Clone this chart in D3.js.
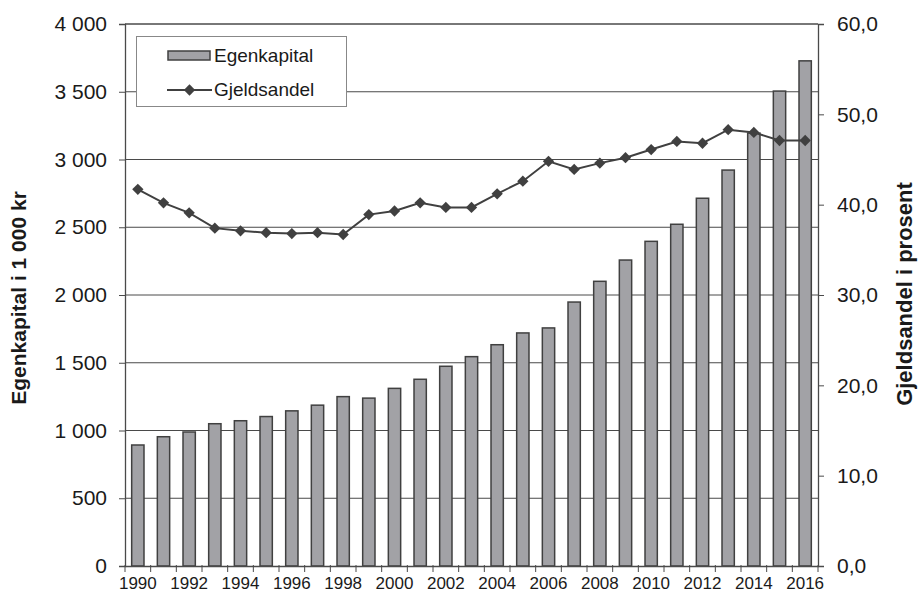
<!DOCTYPE html>
<html><head><meta charset="utf-8">
<script src="https://cdn.jsdelivr.net/npm/d3@7"></script>
<style>body{margin:0;background:#fff}svg{display:block;font-family:"Liberation Sans",Arial,sans-serif}</style>
</head><body><svg id="c" width="922" height="593"></svg>
<script>
const years = d3.range(1990, 2017).map(String);
const egenkapital = [893,954,989,1050,1072,1103,1145,1187,1250,1239,1311,1378,1474,1545,1633,1720,1757,1948,2101,2258,2396,2522,2714,2922,3195,3505,3728];
const gjeldsandel = [41.7,40.2,39.1,37.4,37.1,36.9,36.8,36.9,36.7,38.9,39.3,40.2,39.7,39.7,41.2,42.6,44.8,43.9,44.6,45.2,46.1,47.0,46.8,48.3,48.0,47.1,47.1];
const leftTicks = [0,500,1000,1500,2000,2500,3000,3500,4000];
const rightTicks = [0,10,20,30,40,50,60];
const seriesNames = ["Egenkapital","Gjeldsandel"];
const axisTitles = ["Egenkapital i 1 000 kr","Gjeldsandel i prosent"];

const svg = d3.select("#c");
const L = 125, R = 818, T = 24, B = 566;
const x = d3.scaleBand().domain(years).range([L, R]).paddingInner(0.52).paddingOuter(0.26);
const xb = d3.scaleBand().domain(years).range([L, R]);
const yL = d3.scaleLinear().domain([0, 4000]).range([B, T]);
const yR = d3.scaleLinear().domain([0, 60]).range([B, T]);
const ink = "#404040", txt = "#1a1a1a", axc = "#4a4a4a";

// gridlines
svg.append("g").selectAll("line").data(leftTicks.filter(d => d > 0)).join("line")
  .attr("x1", L).attr("x2", R).attr("y1", d => yL(d)).attr("y2", d => yL(d))
  .attr("stroke", axc).attr("stroke-width", 1);

// bars
svg.append("g").selectAll("rect").data(egenkapital).join("rect")
  .attr("x", (d, i) => x(years[i])).attr("width", x.bandwidth())
  .attr("y", d => yL(d)).attr("height", d => B - yL(d))
  .attr("fill", "#a2a2a6").attr("stroke", ink).attr("stroke-width", 1.5);

// left axis
const fmt = d => d3.format(",")(d).replace(/,/g, " ");
const gl = svg.append("g").attr("transform", `translate(${L},0)`)
  .call(d3.axisLeft(yL).tickValues(leftTicks).tickSize(6).tickPadding(12).tickFormat(fmt));
gl.select(".domain").attr("stroke", axc).attr("stroke-width", 1.3);
gl.selectAll(".tick line").attr("stroke", axc);
gl.selectAll("text").attr("font-size", 21).attr("fill", txt);

// right axis
const gr = svg.append("g").attr("transform", `translate(${R},0)`)
  .call(d3.axisRight(yR).tickValues(rightTicks).tickSize(6).tickPadding(13)
    .tickFormat(d => d3.format(".1f")(d).replace(".", ",")));
gr.select(".domain").attr("stroke", axc).attr("stroke-width", 1.3);
gr.selectAll(".tick line").attr("stroke", axc);
gr.selectAll("text").attr("font-size", 21).attr("fill", txt);

// bottom axis
const gb = svg.append("g").attr("transform", `translate(0,${B})`)
  .call(d3.axisBottom(xb).tickSize(0).tickPadding(11)
    .tickFormat(d => (+d % 2 === 0 ? d : "")));
gb.select(".domain").attr("stroke", axc).attr("stroke-width", 1.3);
gb.selectAll("text").attr("font-size", 17).attr("fill", txt);
// boundary ticks
svg.append("g").selectAll("line").data(years.concat(["end"])).join("line")
  .attr("x1", (d, i) => L + i * xb.step()).attr("x2", (d, i) => L + i * xb.step())
  .attr("y1", B - 1).attr("y2", B + 6).attr("stroke", axc);

// top border
svg.append("line").attr("x1", L).attr("x2", R).attr("y1", T).attr("y2", T).attr("stroke", axc);

// line series
const line = d3.line().x((d, i) => xb(years[i]) + xb.bandwidth() / 2).y(d => yR(d));
svg.append("path").datum(gjeldsandel).attr("d", line).attr("fill", "none")
  .attr("stroke", ink).attr("stroke-width", 2);
svg.append("g").selectAll("path").data(gjeldsandel).join("path")
  .attr("d", d3.symbol().type(d3.symbolSquare).size(64)())
  .attr("transform", (d, i) => `translate(${xb(years[i]) + xb.bandwidth() / 2},${yR(d)}) rotate(45)`)
  .attr("fill", ink);

// axis titles
svg.append("text").attr("transform", `translate(26,${(T + B) / 2 + 3}) rotate(-90)`)
  .attr("text-anchor", "middle").attr("font-size", 21).attr("font-weight", "bold").attr("fill", txt)
  .text(axisTitles[0]);
svg.append("text").attr("transform", `translate(912,${(T + B) / 2 - 1}) rotate(-90)`)
  .attr("text-anchor", "middle").attr("font-size", 22).attr("font-weight", "bold").attr("fill", txt)
  .text(axisTitles[1]);

// legend
const lg = svg.append("g");
lg.append("rect").attr("x", 136.5).attr("y", 36.5).attr("width", 210).attr("height", 70)
  .attr("fill", "#fff").attr("stroke", "#888").attr("stroke-width", 1);
lg.append("rect").attr("x", 168).attr("y", 51).attr("width", 42).attr("height", 9)
  .attr("fill", "#a2a2a6").attr("stroke", ink).attr("stroke-width", 1.5);
lg.append("line").attr("x1", 167).attr("x2", 212).attr("y1", 90).attr("y2", 90)
  .attr("stroke", ink).attr("stroke-width", 2);
lg.append("path").attr("d", d3.symbol().type(d3.symbolSquare).size(64)())
  .attr("transform", "translate(189.5,90) rotate(45)").attr("fill", ink);
lg.selectAll("text.l").data(seriesNames).join("text").attr("class", "l")
  .attr("x", 214).attr("y", (d, i) => 62 + i * 34).attr("font-size", 19).attr("fill", txt)
  .text(d => d);
</script></body></html>
